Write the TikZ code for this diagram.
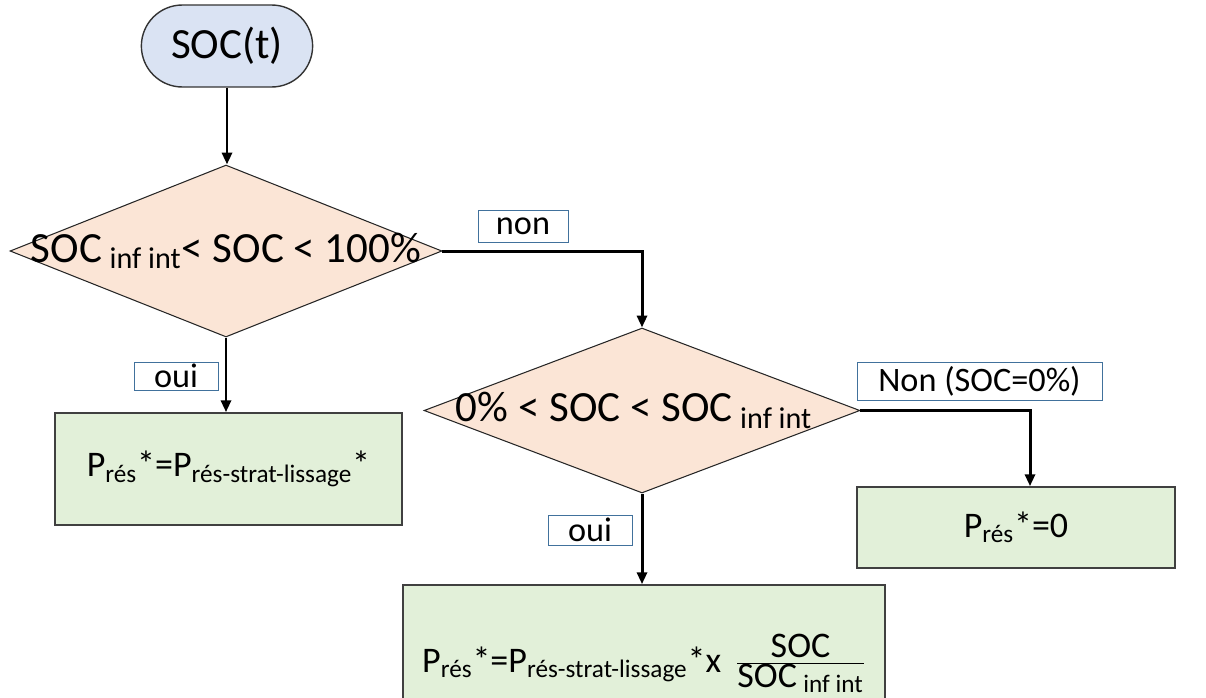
\documentclass[tikz,border=0pt]{standalone}
\usepackage{fontspec}
\setmainfont{Carlito}
\usetikzlibrary{shapes.geometric,shapes.misc,arrows.meta}
\definecolor{startblue}{HTML}{DAE3F3}
\definecolor{condpeach}{HTML}{FBE5D6}
\definecolor{outgreen}{HTML}{E2F0D9}
\definecolor{tagblue}{HTML}{41719C}

\begin{document}
\begin{tikzpicture}[x=0.02cm,y=-0.02cm,
  bigtxt/.style={font=\fontsize{24.5}{29}\selectfont},
  startbox/.style={rounded rectangle,draw=black!80,fill=startblue,line width=0.8pt,minimum width=3.66cm,minimum height=1.64cm,bigtxt},
  condbox/.style={diamond,draw=black!85,fill=condpeach,line width=0.6pt,inner sep=0pt},
  outbox/.style={rectangle,draw=black!75,fill=outgreen,line width=0.9pt,font=\fontsize{20.5}{24}\selectfont},
  tagbox/.style={rectangle,draw=tagblue,fill=white,line width=0.5pt,inner sep=0pt,font=\fontsize{19.5}{23}\selectfont},
  arr/.style={line width=1.7pt,-{Triangle[width=5.7pt,length=6.8pt]}}]
  \useasboundingbox (0,0) rectangle (1206,697);
  \def\ii{\hspace{.25em}inf int}
  \node[startbox] (st) at (227,46) {SOC(t)};
  \node[condbox,minimum width=8.64cm,minimum height=3.44cm,
    label={[bigtxt]center:{SOC\textsubscript{\ii}< SOC < 100\%}}] (c1) at (226,251) {};
  \node[condbox,minimum width=8.72cm,minimum height=3.3cm,
    label={[bigtxt,xshift=-0.16cm]center:{0\% < SOC < SOC\textsubscript{\ii}}}] (c2) at (642,410.5) {};
  \node[outbox,minimum width=6.94cm,minimum height=2.24cm] (o1) at (228.5,469)
    {P\textsubscript{rés}*=P\textsubscript{rés-strat-lissage}*};
  \node[outbox,minimum width=9.64cm,minimum height=2.32cm] (o2) at (644,643)
    {\raisebox{-0.58cm}[0pt][0pt]{P\textsubscript{rés}*=P\textsubscript{rés-strat-lissage}*x\, $\frac{\mbox{SOC}}{\mbox{SOC\textsubscript{\ii}}}$}};
  \node[outbox,minimum width=6.36cm,minimum height=1.62cm] (o3) at (1016,527.5)
    {P\textsubscript{rés}*=0};
  \node[tagbox,minimum width=1.8cm,minimum height=0.64cm] (t1) at (523,226) {non};
  \node[tagbox,minimum width=1.68cm,minimum height=0.56cm] (t2) at (176,376) {oui};
  \node[tagbox,minimum width=4.9cm,minimum height=0.76cm] (t3) at (979.5,381) {Non (SOC=0\%)};
  \node[tagbox,minimum width=1.68cm,minimum height=0.6cm] (t4) at (590,530) {oui};
  \coordinate (k) at (1030,410.5);
  \draw[arr] (st.south) -- (st.south |- c1.north);
  \draw[arr] (c1.east) -| (c2.north);
  \draw[arr] (c1.south) -- (c1.south |- o1.north);
  \draw[arr] (c2.south) -- (c2.south |- o2.north);
  \draw[arr] (c2.east) -- (k) -- (k |- o3.north);
\end{tikzpicture}
\end{document}
